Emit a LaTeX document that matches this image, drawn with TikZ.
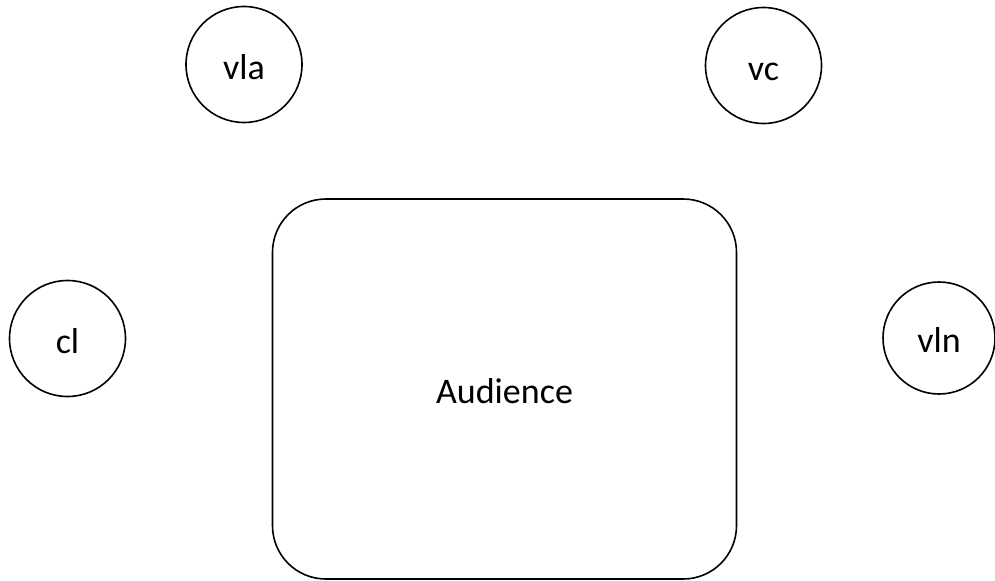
\documentclass[tikz,border=0pt]{standalone}
\usepackage{fontspec}
\setmainfont{Carlito}
\tikzset{
  player/.style={draw, circle, line width=1.2pt, inner sep=0pt, minimum size=87pt, text height=22pt, text depth=0pt, font=\fontsize{27}{30}\selectfont},
  stage/.style={draw, rectangle, line width=1.2pt, rounded corners=40pt, minimum width=348pt, minimum height=285pt, text height=22pt, text depth=0pt, font=\fontsize{27}{30}\selectfont}
}
\begin{document}
\begin{tikzpicture}[x=0.75pt,y=-0.75pt]
      \useasboundingbox (0,0) rectangle (995,581);
      \draw
        (244,64.5) node[player] (vla){vla}
        (763.5,65.5) node[player] (vc){vc}
        (67.5,338.5) node[player] (cl){cl}
        (939,338) node[player, minimum size=84pt] (vln){vln}
        (504.5,389) node[stage] (aud){Audience};
    \end{tikzpicture}
\end{document}
